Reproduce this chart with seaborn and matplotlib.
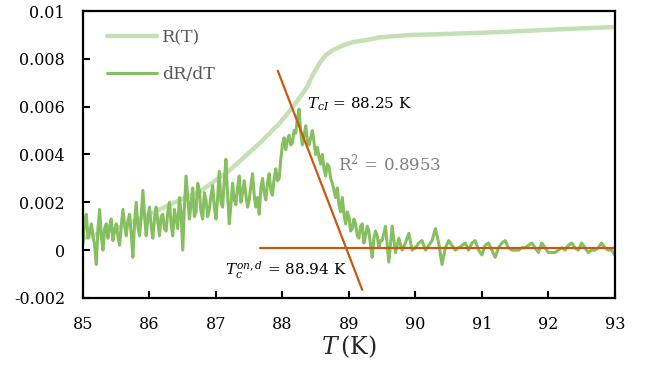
import matplotlib
matplotlib.use('Agg')
import matplotlib.pyplot as plt
import numpy as np
import pandas as pd
import seaborn as sns

# R(T) curve (values in 1e-3 units)
t_r = [85.0, 85.5, 86.0, 86.46, 86.76, 87.21, 87.66, 87.96, 88.16, 88.37, 88.45,
       88.56, 88.65, 88.76, 88.9, 89.06, 89.27, 89.47, 89.92, 90.26, 91.27, 92.28, 93.0]
r_vals = [0.5, 0.9, 1.5, 2.1, 2.45, 3.35, 4.48, 5.32, 5.99, 6.82, 7.3,
          7.83, 8.15, 8.37, 8.55, 8.70, 8.79, 8.90, 9.00, 9.02, 9.12, 9.25, 9.33]

# dR/dT below 89.5 K, every 0.025 K (1e-3 units)
t_fine = np.linspace(85, 89.475, 180)
drdt_fine = [
    0.3, 1.2, 1.5, 0.5, 0.7, 1.1, 0.6, 0.2, -0.6, 0.9, 1.7, 0.6, 0.0, 0.9, 1.1, 0.5, 1.0, 1.3, 0.4, 0.8,
    1.1, 0.6, 0.2, 1.0, 1.7, 1.1, 0.6, 1.2, 1.5, 0.7, -0.3, 1.1, 2.0, 1.0, 0.6, 1.4, 2.5, 1.5, 0.6, 1.3,
    1.8, 1.0, 0.5, 1.3, 1.8, 1.2, 0.6, 1.4, 1.5, 0.9, 0.8, 1.6, 2.0, 1.1, 0.6, 1.7, 1.3, 0.9, 2.2, 1.6,
    0.0, 1.8, 3.1, 2.2, 1.3, 1.9, 2.6, 1.4, 1.6, 2.8, 2.5, 1.6, 1.3, 2.4, 2.1, 1.4, 1.7, 2.3, 2.7, 1.8,
    1.3, 2.2, 3.3, 2.0, 1.8, 2.9, 3.8, 2.3, 1.1, 1.9, 2.8, 2.1, 1.9, 2.6, 3.1, 2.0, 2.4, 2.9, 2.3, 1.8,
    2.1, 2.7, 3.2, 2.3, 1.8, 2.2, 1.5, 2.6, 3.0, 2.4, 2.1, 2.8, 3.2, 2.5, 2.3, 3.0, 3.4, 2.9, 3.0, 3.8,
    4.4, 4.7, 4.2, 4.6, 4.8, 4.4, 4.5, 5.0, 4.9, 5.5, 5.9, 4.9, 4.4, 4.8, 5.2, 4.6, 4.4, 4.7, 5.0, 4.5,
    4.0, 4.3, 3.9, 3.6, 4.0, 3.4, 3.1, 3.6, 3.5, 3.0, 2.8, 2.5, 2.2, 2.6, 1.9, 1.6, 2.2, 1.5, 1.1, 1.6,
    1.4, 0.8, 0.9, 1.3, 1.1, 0.6, 0.5, 1.0, 1.1, 0.3, 0.6, 1.0, 0.8, 0.2, -0.3, 0.5, 0.8, 0.6, 0.1, 0.4,
]

# dR/dT from 89.5 K, every 0.05 K (1e-3 units)
t_coarse = np.linspace(89.5, 93, 71)
drdt_coarse = [
    0.4, 1.0, -0.5, 1.0, -0.1, 0.5, 0.0, 0.3, 0.7, 0.0,
    0.1, 0.3, 0.4, 0.0, 0.2, 0.4, 0.9, 0.3, -0.6, 0.1,
    0.4, 0.2, 0.0, 0.1, 0.2, 0.3, 0.0, 0.3, 0.4, 0.0,
    -0.2, 0.2, 0.3, 0.0, -0.3, 0.1, 0.3, 0.4, 0.1, 0.0,
    0.0, 0.0, 0.1, 0.1, 0.2, 0.3, 0.1, -0.1, 0.3, 0.1,
    -0.1, -0.1, -0.1, 0.0, 0.1, 0.0, 0.2, 0.3, 0.1, 0.0,
    0.3, 0.1, -0.1, 0.0, 0.0, 0.1, 0.3, 0.1, 0.0, 0.0,
    -0.2,
]

# linear fits (1e-3 units)
fit_t = [87.93, 89.20]
fit_vals = [7.5, -1.66]
base_t = [87.66, 93.0]
base_vals = [0.08, 0.08]

y_ticks = [-0.002, 0.0, 0.002, 0.004, 0.006, 0.008, 0.01]
x_ticks = [85, 86, 87, 88, 89, 90, 91, 92, 93]

sns.set_theme(style="white")
plt.rcParams['font.family'] = ['DejaVu Serif']
plt.rcParams['mathtext.fontset'] = 'dejavuserif'

df_r = pd.DataFrame({'T': t_r, 'v': np.array(r_vals) * 1e-3})
df_d = pd.DataFrame({'T': np.concatenate([t_fine, t_coarse]),
                     'v': np.array(drdt_fine + drdt_coarse) * 1e-3})
df_fit = pd.DataFrame({'T': fit_t, 'v': np.array(fit_vals) * 1e-3})
df_base = pd.DataFrame({'T': base_t, 'v': np.array(base_vals) * 1e-3})

fig = plt.figure(figsize=(6.51, 3.72), dpi=100)
ax = fig.add_axes([0.1275, 0.199, 0.817, 0.7714])

sns.lineplot(data=df_r, x='T', y='v', ax=ax, color='#c5e0b4', lw=3.2, label='R(T)')
sns.lineplot(data=df_d, x='T', y='v', ax=ax, color='#86bf5f', lw=2.2, label='dR/dT')
sns.lineplot(data=df_fit, x='T', y='v', ax=ax, color='#c55a11', lw=1.6, legend=False)
sns.lineplot(data=df_base, x='T', y='v', ax=ax, color='#c55a11', lw=1.6, legend=False)

ax.set_xlim(85, 93)
ax.set_ylim(-0.002, 0.01)
ax.set_xticks(x_ticks)
ax.set_xticklabels([str(v) for v in x_ticks])
ax.set_yticks(y_ticks)
ax.set_yticklabels([f"{v:g}" for v in y_ticks])
ax.tick_params(axis='both', direction='in', length=5, width=1.5, colors='black',
               labelsize=11.5, pad=13, left=True, bottom=True)
for side in ['left', 'bottom', 'top', 'right']:
    ax.spines[side].set_color('black')
    ax.spines[side].set_linewidth(1.6)

ax.set_xlabel(r"$T\,$(K)", fontsize=17, labelpad=0)
ax.set_ylabel('')

ax.text(88.37, 0.0061, r"$T_{cI}$ = 88.25 K", fontsize=11, va='center', color='black')
ax.text(88.83, 0.00364, r"R$^2$ = 0.8953", fontsize=12, va='center', color='#7f7f7f')
ax.text(87.14, -0.00083, r"$T_c^{on,d}$ = 88.94 K", fontsize=11, va='center', color='black')

leg = ax.legend(loc='upper left', frameon=False, fontsize=12.5, handlelength=2.9,
                handletextpad=0.3, labelspacing=1.15, bbox_to_anchor=(0.015, 0.99),
                labelcolor='#595959')

fig.savefig('out.png', dpi=100)
